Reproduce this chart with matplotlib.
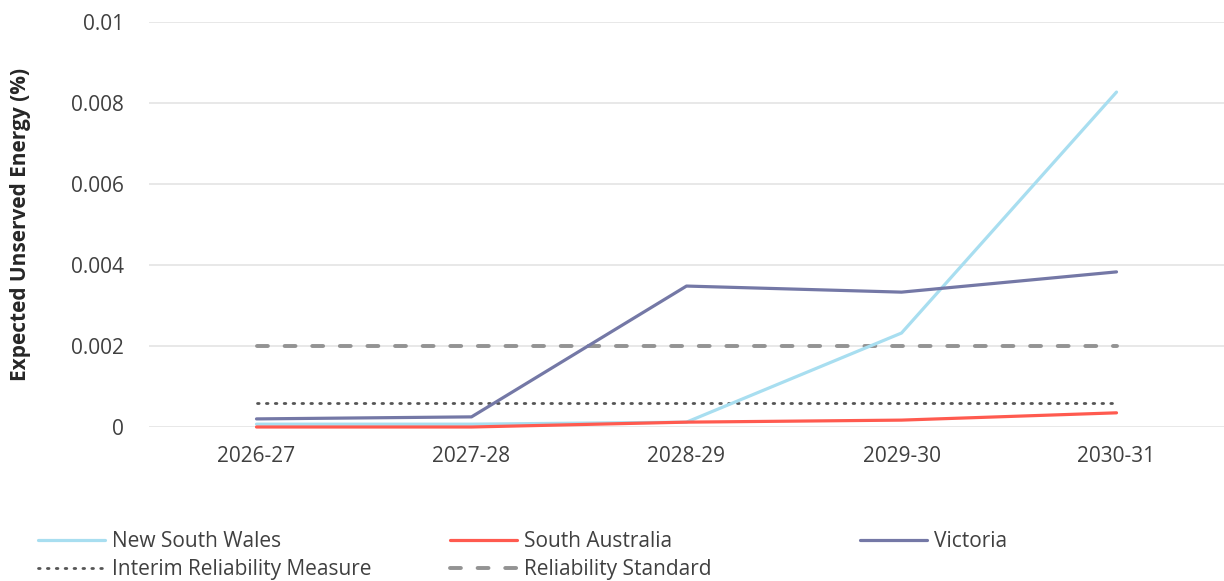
import matplotlib
matplotlib.use("Agg")
import matplotlib.pyplot as plt
from matplotlib.lines import Line2D

plt.rcParams['font.family'] = ['Open Sans', 'DejaVu Sans']

years = ["2026-27", "2027-28", "2028-29", "2029-30", "2030-31"]
nsw = [0.00007, 0.00007, 0.00012, 0.00232, 0.00827]
sa = [0.0, 0.0, 0.00012, 0.00017, 0.00035]
vic = [0.0002, 0.00025, 0.00348, 0.00333, 0.00383]
interim = [0.0006] * 5
standard = [0.002] * 5
yticks = [0, 0.002, 0.004, 0.006, 0.008, 0.01]
ytick_labels = ["0", "0.002", "0.004", "0.006", "0.008", "0.01"]

c_nsw = "#a8def0"
c_sa = "#ff5a4f"
c_vic = "#7478a6"
c_int = "#555555"
c_std = "#939393"

fig = plt.figure(figsize=(12.24, 5.81), dpi=100)
ax = fig.add_axes([149/1224, (581-427)/581, 1 - 149/1224, (427-22)/581])

x = list(range(len(years)))
lw = 2.3
l_int, = ax.plot(x, interim, color=c_int, lw=2.0, linestyle=(0, (0.6, 2.6)), dash_capstyle='round', label="Interim Reliability Measure")
l_std, = ax.plot(x, standard, color=c_std, lw=2.8, linestyle=(0, (2.8, 4.3)), dash_capstyle='round', label="Reliability Standard")
l_nsw, = ax.plot(x, nsw, color=c_nsw, lw=lw, solid_capstyle='round', label="New South Wales")
l_sa, = ax.plot(x, sa, color=c_sa, lw=lw, solid_capstyle='round', label="South Australia")
l_vic, = ax.plot(x, vic, color=c_vic, lw=lw, solid_capstyle='round', label="Victoria")

ax.set_xlim(-0.5, 4.5)
ax.set_ylim(0, 0.01)
ax.set_xticks(x)
ax.set_xticklabels(years)
ax.set_yticks(yticks)
ax.set_yticklabels(ytick_labels)
ax.tick_params(axis='both', length=0, labelsize=15, labelcolor="#404040")
ax.tick_params(axis='x', pad=14)
ax.tick_params(axis='y', pad=18)
for s in ax.spines.values():
    s.set_visible(False)
ax.grid(axis='y', color="#e4e4e4", lw=1.2)
ax.set_axisbelow(True)
for l in [l_int, l_std, l_nsw, l_sa, l_vic]:
    l.set_clip_on(False)

ax.set_ylabel("Expected Unserved Energy (%)", fontsize=15, fontweight='bold', color="#262626")
ax.yaxis.set_label_coords(-0.110, 0.5)

legkw = dict(loc='upper left', frameon=False, fontsize=15, handlelength=3.2,
             handletextpad=0.35, borderpad=0, borderaxespad=0, labelspacing=0.36, labelcolor="#404040")
ytop = 1 - 531/581
fig.legend(handles=[l_nsw, l_int], bbox_to_anchor=(38/1224, ytop), **legkw)
fig.legend(handles=[l_sa, l_std], bbox_to_anchor=(450/1224, ytop), **legkw)
fig.legend(handles=[l_vic], bbox_to_anchor=(860/1224, ytop), **legkw)

fig.savefig("out.png", dpi=100)
